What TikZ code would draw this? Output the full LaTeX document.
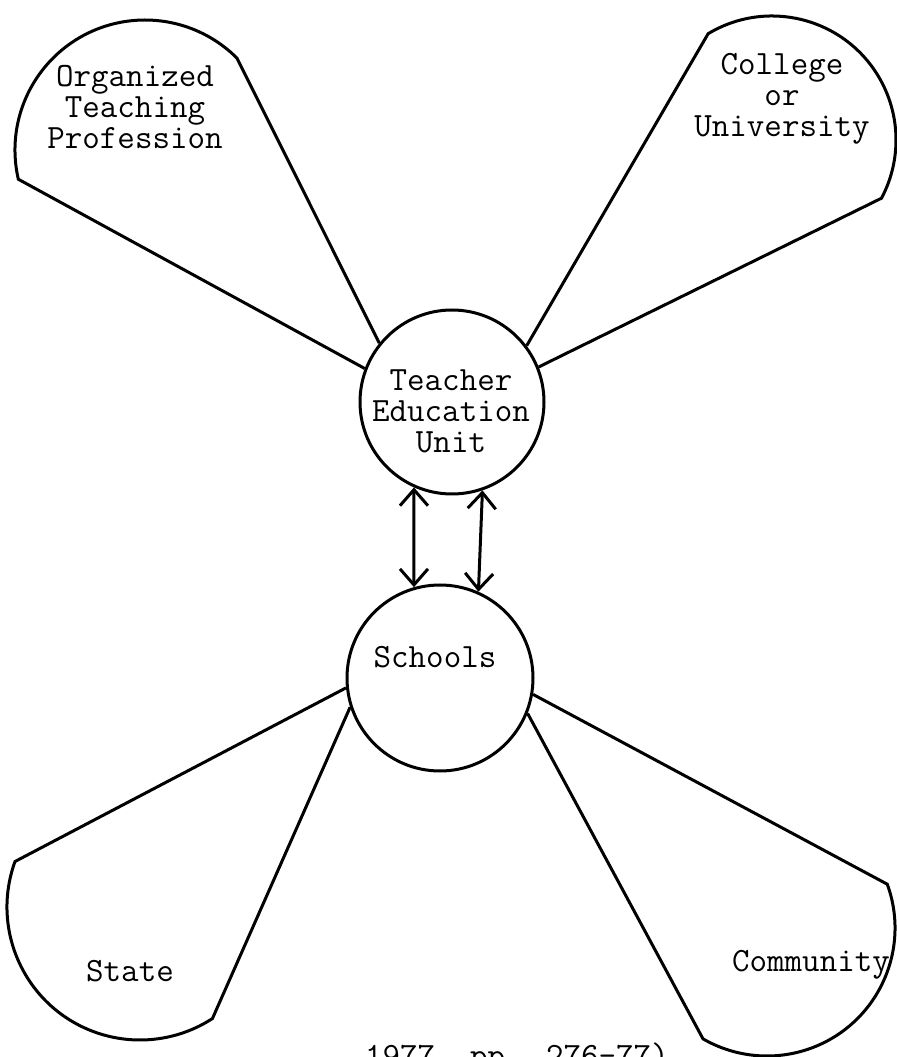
\documentclass[tikz,border=0pt]{standalone}
\usepackage{fontspec}
\usetikzlibrary{arrows.meta,calc}
\begin{document}
\begin{tikzpicture}[x=0.5pt, y=0.5pt, line width=1.5pt,
  font=\ttfamily\fontsize{17}{15.5}\selectfont,
  unit/.style={circle, draw, inner sep=0pt},
  >={Straight Barb[length=8pt,width=14pt]}]

\useasboundingbox (0,0) rectangle (897,1057);

\node[unit, minimum size=92pt] (teu) at (452,655) {};
\node[unit, minimum size=93pt] (sch) at (440,379) {};
\node[align=center] (teutxt) at (451,646) {Teacher\\Education\\Unit};
\node (schtxt) at (435,400) {Schools};

\foreach \hub/\p/\q/\cx/\cy/\r/\s/\e in {teu/159/141/145/907/130/193/45,
  teu/37/22/772/917/124/121/-28,
  sch/186/198/140/150/133/160/303,
  sch/350/338/767/129/128/20/-120}{
\draw (\hub.\p) -- ($(\cx,\cy)+(\s:\r)$) arc[start angle=\s, end angle=\e, radius=\r] -- (\hub.\q);}

\node[align=center] (otp) at (135,950) {Organized\\Teaching\\Profession};
\node[align=center] (univ) at (782,958) {College\\or\\University};
\node (state) at (130,86) {State};
\node (comm) at (811,92) {Community};

\draw[<->] (teu.-114) -- (sch.106);
\draw[<->] (teu.-71) -- (sch.66);

\node[anchor=base west] (src) at (357,-10) {1977, pp. 276-77)};

\end{tikzpicture}
\end{document}
